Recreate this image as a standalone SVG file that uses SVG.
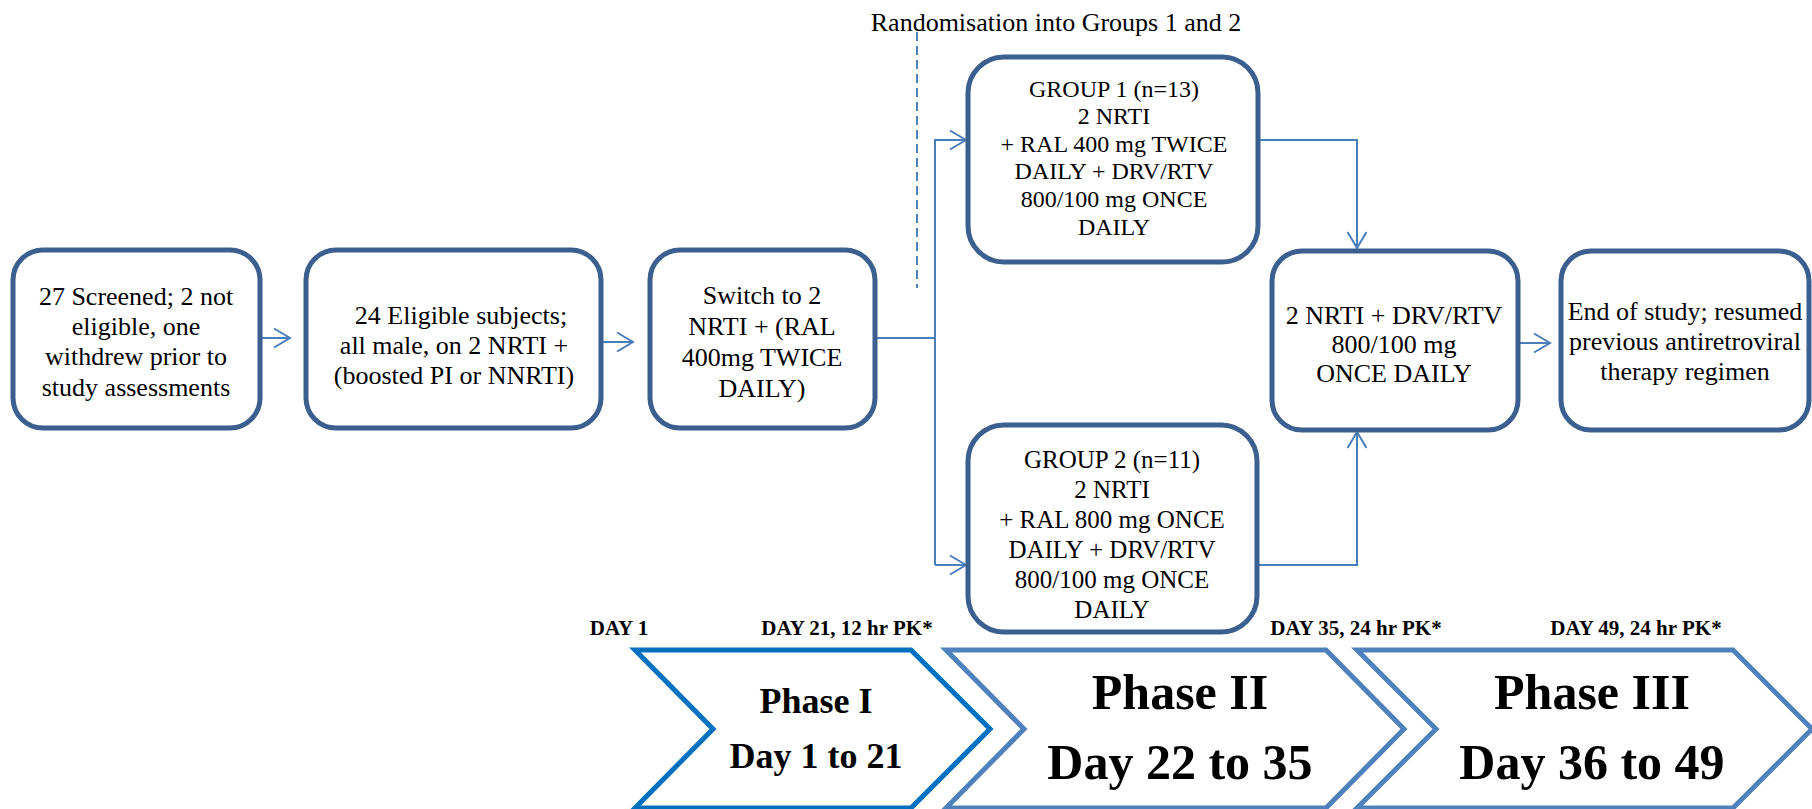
<svg xmlns="http://www.w3.org/2000/svg" width="1812" height="809" viewBox="0 0 1812 809">
<defs>
<marker id="ah" markerUnits="userSpaceOnUse" markerWidth="24" markerHeight="24" viewBox="-20 -12 24 24" refX="0" refY="0" orient="auto">
<path d="M-16,-9.5 L0,0 L-16,9.5" fill="none" stroke="#4a7ebb" stroke-width="2"/>
</marker>
<style>
.box{fill:#fff;stroke:#3b5f8e;stroke-width:5}
.t{font-family:"Liberation Serif","Times New Roman",serif;font-size:26px;fill:#000;text-anchor:middle}
.g{font-size:24px}
.g2{font-size:25px}
.con{fill:none;stroke:#4a7ebb;stroke-width:2}
.day{font-family:"Liberation Serif","Times New Roman",serif;font-size:21px;font-weight:bold;fill:#000;text-anchor:middle}
.ph{font-family:"Liberation Serif","Times New Roman",serif;font-weight:bold;fill:#000;text-anchor:middle}
.chev{fill:#fff;stroke-width:5;stroke-linejoin:miter}
</style>
</defs>
<rect width="1812" height="809" fill="#fff"/>

<text class="t" x="1056" y="31">Randomisation into Groups 1 and 2</text>
<line x1="917" y1="32" x2="917" y2="288" stroke="#4f81bd" stroke-width="2" stroke-dasharray="9 5"/>

<g id="connectors">
<line class="con" x1="260" y1="338" x2="290" y2="338" marker-end="url(#ah)"/>
<line class="con" x1="601" y1="342" x2="633" y2="342" marker-end="url(#ah)"/>
<polyline class="con" points="875,338 935,338"/>
<polyline class="con" points="935,565 935,140 966,140" marker-end="url(#ah)"/>
<polyline class="con" points="935,565 966,565" marker-end="url(#ah)"/>
<polyline class="con" points="1258,140 1357,140 1357,248" marker-end="url(#ah)"/>
<polyline class="con" points="1257,565 1357,565 1357,432" marker-end="url(#ah)"/>
<line class="con" x1="1518" y1="343" x2="1550" y2="343" marker-end="url(#ah)"/>
</g>

<g id="screened">
<rect class="box" x="13" y="250" width="247" height="178" rx="30"/>
<text class="t" x="136" y="305">27 Screened; 2 not</text>
<text class="t" x="136" y="335">eligible, one</text>
<text class="t" x="136" y="365">withdrew prior to</text>
<text class="t" x="136" y="396">study assessments</text>
</g>

<g id="eligible">
<rect class="box" x="306" y="250" width="295" height="178" rx="30"/>
<text class="t" x="461" y="324">24 Eligible subjects;</text>
<text class="t" x="454" y="354">all male, on 2 NRTI +</text>
<text class="t" x="454" y="384">(boosted PI or NNRTI)</text>
</g>

<g id="switch">
<rect class="box" x="650" y="250" width="225" height="178" rx="30"/>
<text class="t" x="762" y="304">Switch to 2</text>
<text class="t" x="762" y="335">NRTI + (RAL</text>
<text class="t" x="762" y="366">400mg TWICE</text>
<text class="t" x="762" y="397">DAILY)</text>
</g>

<g id="group1">
<rect class="box" x="968" y="57" width="290" height="205" rx="36"/>
<text class="t g" x="1114" y="97">GROUP 1 (n=13)</text>
<text class="t g" x="1114" y="124">2 NRTI</text>
<text class="t g" x="1114" y="152">+ RAL 400 mg TWICE</text>
<text class="t g" x="1114" y="179">DAILY + DRV/RTV</text>
<text class="t g" x="1114" y="207">800/100 mg ONCE</text>
<text class="t g" x="1114" y="235">DAILY</text>
</g>

<g id="group2">
<rect class="box" x="968" y="425" width="289" height="207" rx="36"/>
<text class="t g2" x="1112" y="468">GROUP 2 (n=11)</text>
<text class="t g2" x="1112" y="498">2 NRTI</text>
<text class="t g2" x="1112" y="528">+ RAL 800 mg ONCE</text>
<text class="t g2" x="1112" y="558">DAILY + DRV/RTV</text>
<text class="t g2" x="1112" y="588">800/100 mg ONCE</text>
<text class="t g2" x="1112" y="618">DAILY</text>
</g>

<g id="drvrtv">
<rect class="box" x="1272" y="251" width="246" height="179" rx="30"/>
<text class="t" x="1394" y="324">2 NRTI + DRV/RTV</text>
<text class="t" x="1394" y="353">800/100 mg</text>
<text class="t" x="1394" y="382">ONCE DAILY</text>
</g>

<g id="end">
<rect class="box" x="1561" y="251" width="248" height="179" rx="30"/>
<text class="t" x="1685" y="320">End of study; resumed</text>
<text class="t" x="1685" y="350">previous antiretroviral</text>
<text class="t" x="1685" y="380">therapy regimen</text>
</g>

<g id="days">
<text class="day" x="619" y="635">DAY 1</text>
<text class="day" x="847" y="635">DAY 21, 12 hr PK*</text>
<text class="day" x="1356" y="635">DAY 35, 24 hr PK*</text>
<text class="day" x="1636" y="635">DAY 49, 24 hr PK*</text>
</g>

<g id="phase1">
<polygon class="chev" stroke="#0070c0" points="635,650 911,650 990,729 911,808 635,808 713,729"/>
<text class="ph" x="816" y="713" font-size="36">Phase I</text>
<text class="ph" x="816" y="768" font-size="36">Day 1 to 21</text>
</g>

<g id="phase2">
<polygon class="chev" stroke="#4f81bd" points="946,650 1326,650 1404,729 1326,808 946,808 1024,729"/>
<text class="ph" x="1180" y="709" font-size="50">Phase II</text>
<text class="ph" x="1180" y="779" font-size="50">Day 22 to 35</text>
</g>

<g id="phase3">
<polygon class="chev" stroke="#4f81bd" points="1357,650 1733,650 1812,729 1733,808 1357,808 1436,729"/>
<text class="ph" x="1592" y="709" font-size="50">Phase III</text>
<text class="ph" x="1592" y="779" font-size="50">Day 36 to 49</text>
</g>
</svg>
